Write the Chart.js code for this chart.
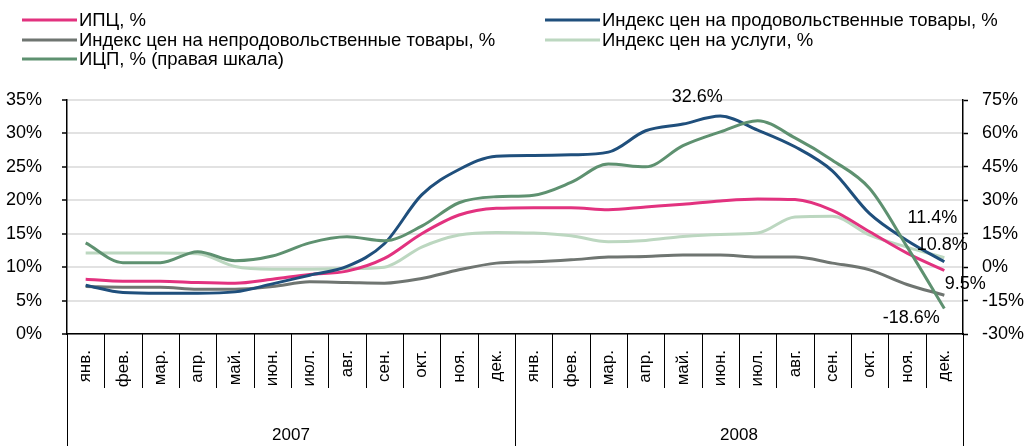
<!DOCTYPE html>
<html>
<head>
<meta charset="utf-8">
<script src="https://cdn.jsdelivr.net/npm/chart.js@4"></script>
<style>
  html, body { margin: 0; padding: 0; background: #fff; }
</style>
</head>
<body>
<canvas id="chart" width="1031" height="446"></canvas>
<script>
const months = ['янв.', 'фев.', 'мар.', 'апр.', 'май.', 'июн.', 'июл.', 'авг.', 'сен.', 'окт.', 'ноя.', 'дек.'];
const years = ['2007', '2008'];
const labels = [...months, ...months];

// ИПЦ и индексы цен, % (левая шкала)
const cpi      = [8.2, 7.9, 7.9, 7.7, 7.6, 8.2, 8.9, 9.4, 11.3, 15.0, 17.8, 18.8,
                  18.9, 18.9, 18.6, 19.0, 19.4, 19.9, 20.2, 20.1, 18.5, 15.3, 12.1, 9.5];
const food     = [7.3, 6.2, 6.1, 6.1, 6.3, 7.5, 8.8, 10.1, 13.5, 20.8, 24.6, 26.6,
                  26.7, 26.8, 27.2, 30.4, 31.4, 32.6, 30.5, 28.0, 24.4, 18.0, 14.0, 10.8];
const nonfood  = [7.1, 7.0, 7.0, 6.7, 6.7, 7.1, 7.8, 7.7, 7.6, 8.3, 9.6, 10.6,
                  10.8, 11.1, 11.5, 11.6, 11.8, 11.8, 11.5, 11.5, 10.6, 9.6, 7.4, 5.8];
const services = [12.1, 12.1, 12.1, 12.0, 10.1, 9.7, 9.7, 9.8, 10.0, 13.0, 14.8, 15.2,
                  15.1, 14.7, 13.8, 14.0, 14.6, 14.9, 15.1, 17.5, 17.6, 14.8, 13.0, 11.4];
// ИЦП, % (правая шкала)
const ppi      = [10.9, 2.0, 2.0, 6.9, 2.9, 5.0, 10.9, 13.6, 11.8, 18.4, 28.9, 31.6,
                  32.3, 38.0, 46.3, 45.0, 54.5, 60.7, 65.7, 58.0, 48.0, 35.3, 9.2, -18.6];

// подписи точек: [набор, индекс, текст]
const pointLabels = [
  [1, 17, '32.6%'],
  [3, 23, '11.4%'],
  [1, 23, '10.8%'],
  [0, 23, '9.5%'],
  [4, 23, '-18.6%']
];
const labelOffsets = [[-23, -19], [-12, -40], [-2, -17], [21, 14], [-33, 9]];

const FONT = "'Liberation Sans', Arial, sans-serif";
Chart.defaults.font.family = FONT;
Chart.defaults.font.size = 17;
Chart.defaults.color = '#000';

const line = (label, data, color, axis, order) => ({
  label, data, yAxisID: axis, order,
  borderColor: color, backgroundColor: color,
  borderWidth: 3, pointRadius: 0, cubicInterpolationMode: 'monotone', fill: false
});

const legendPlugin = {
  id: 'topLegend',
  afterDraw(chart) {
    const ctx = chart.ctx;
    const cols = [22, 545];
    const rows = [20, 40, 59];
    ctx.save();
    ctx.font = '18.5px ' + FONT;
    ctx.textBaseline = 'middle';
    ctx.fillStyle = '#000';
    chart.data.datasets.forEach((ds, i) => {
      const x = cols[i % 2], y = rows[Math.floor(i / 2)];
      ctx.strokeStyle = ds.borderColor;
      ctx.lineWidth = 3;
      ctx.beginPath();
      ctx.moveTo(x, y);
      ctx.lineTo(x + 55, y);
      ctx.stroke();
      ctx.fillText(ds.label, x + 57, y + 1);
    });
    ctx.restore();
  }
};

const axisPlugin = {
  id: 'yearAxis',
  afterDraw(chart) {
    const ctx = chart.ctx;
    const area = chart.chartArea;
    const n = labels.length;
    const w = (area.right - area.left) / n;
    ctx.save();
    ctx.strokeStyle = '#000';
    ctx.lineWidth = 1;
    for (let i = 0; i <= n; i++) {
      const x = Math.round(area.left + i * w) + 0.5;
      ctx.beginPath();
      ctx.moveTo(x, area.bottom);
      ctx.lineTo(x, i % 12 === 0 ? chart.height : area.bottom + 54);
      ctx.stroke();
    }
    ctx.font = '17px ' + FONT;
    ctx.textAlign = 'center';
    ctx.textBaseline = 'middle';
    ctx.fillStyle = '#000';
    years.forEach((y, k) => {
      ctx.fillText(y, area.left + (k * 12 + 6) * w, 435);
    });
    ctx.restore();
  }
};

const valuePlugin = {
  id: 'valueLabels',
  afterDatasetsDraw(chart) {
    const ctx = chart.ctx;
    ctx.save();
    ctx.font = '18px ' + FONT;
    ctx.textAlign = 'center';
    ctx.textBaseline = 'middle';
    ctx.fillStyle = '#000';
    pointLabels.forEach(([d, i, text], k) => {
      const p = chart.getDatasetMeta(d).data[i];
      ctx.fillText(text, p.x + labelOffsets[k][0], p.y + labelOffsets[k][1]);
    });
    ctx.restore();
  }
};

new Chart(document.getElementById('chart'), {
  type: 'line',
  data: {
    labels,
    datasets: [
      line('ИПЦ, %', cpi, '#e2327f', 'y', 2),
      line('Индекс цен на продовольственные товары, %', food, '#1f4f7c', 'y', 1),
      line('Индекс цен на непродовольственные товары, %', nonfood, '#6f7571', 'y', 4),
      line('Индекс цен на услуги, %', services, '#bcd7c0', 'y', 5),
      line('ИЦП, % (правая шкала)', ppi, '#5e9170', 'y1', 0)
    ]
  },
  options: {
    responsive: false,
    animation: false,
    devicePixelRatio: 1,
    layout: { padding: { top: 100, left: 0, right: 0, bottom: 0 } },
    plugins: { legend: { display: false }, tooltip: { enabled: false } },
    scales: {
      x: {
        offset: true,
        grid: { display: true, drawOnChartArea: false, drawTicks: false },
        border: { color: '#000', width: 1.5 },
        ticks: { minRotation: 90, maxRotation: 90, autoSkip: false, padding: 16 },
        afterFit(s) { s.height = 112; }
      },
      y: {
        min: 0, max: 35,
        ticks: { stepSize: 5, padding: 20, font: { size: 18 }, callback: v => v + '%' },
        grid: { color: '#e2e2e2', lineWidth: 2, tickLength: 5, tickColor: '#000', tickWidth: 1.5 },
        border: { color: '#000', width: 1.5 },
        afterFit(s) { s.width = 67; }
      },
      y1: {
        position: 'right',
        min: -30, max: 75,
        ticks: { stepSize: 15, padding: 14, font: { size: 18 }, callback: v => v + '%' },
        grid: { drawOnChartArea: false, tickLength: 5, tickColor: '#000', tickWidth: 1.5 },
        border: { color: '#000', width: 1.5 },
        afterFit(s) { s.width = 68; }
      }
    }
  },
  plugins: [legendPlugin, axisPlugin, valuePlugin]
});
</script>
</body>
</html>
